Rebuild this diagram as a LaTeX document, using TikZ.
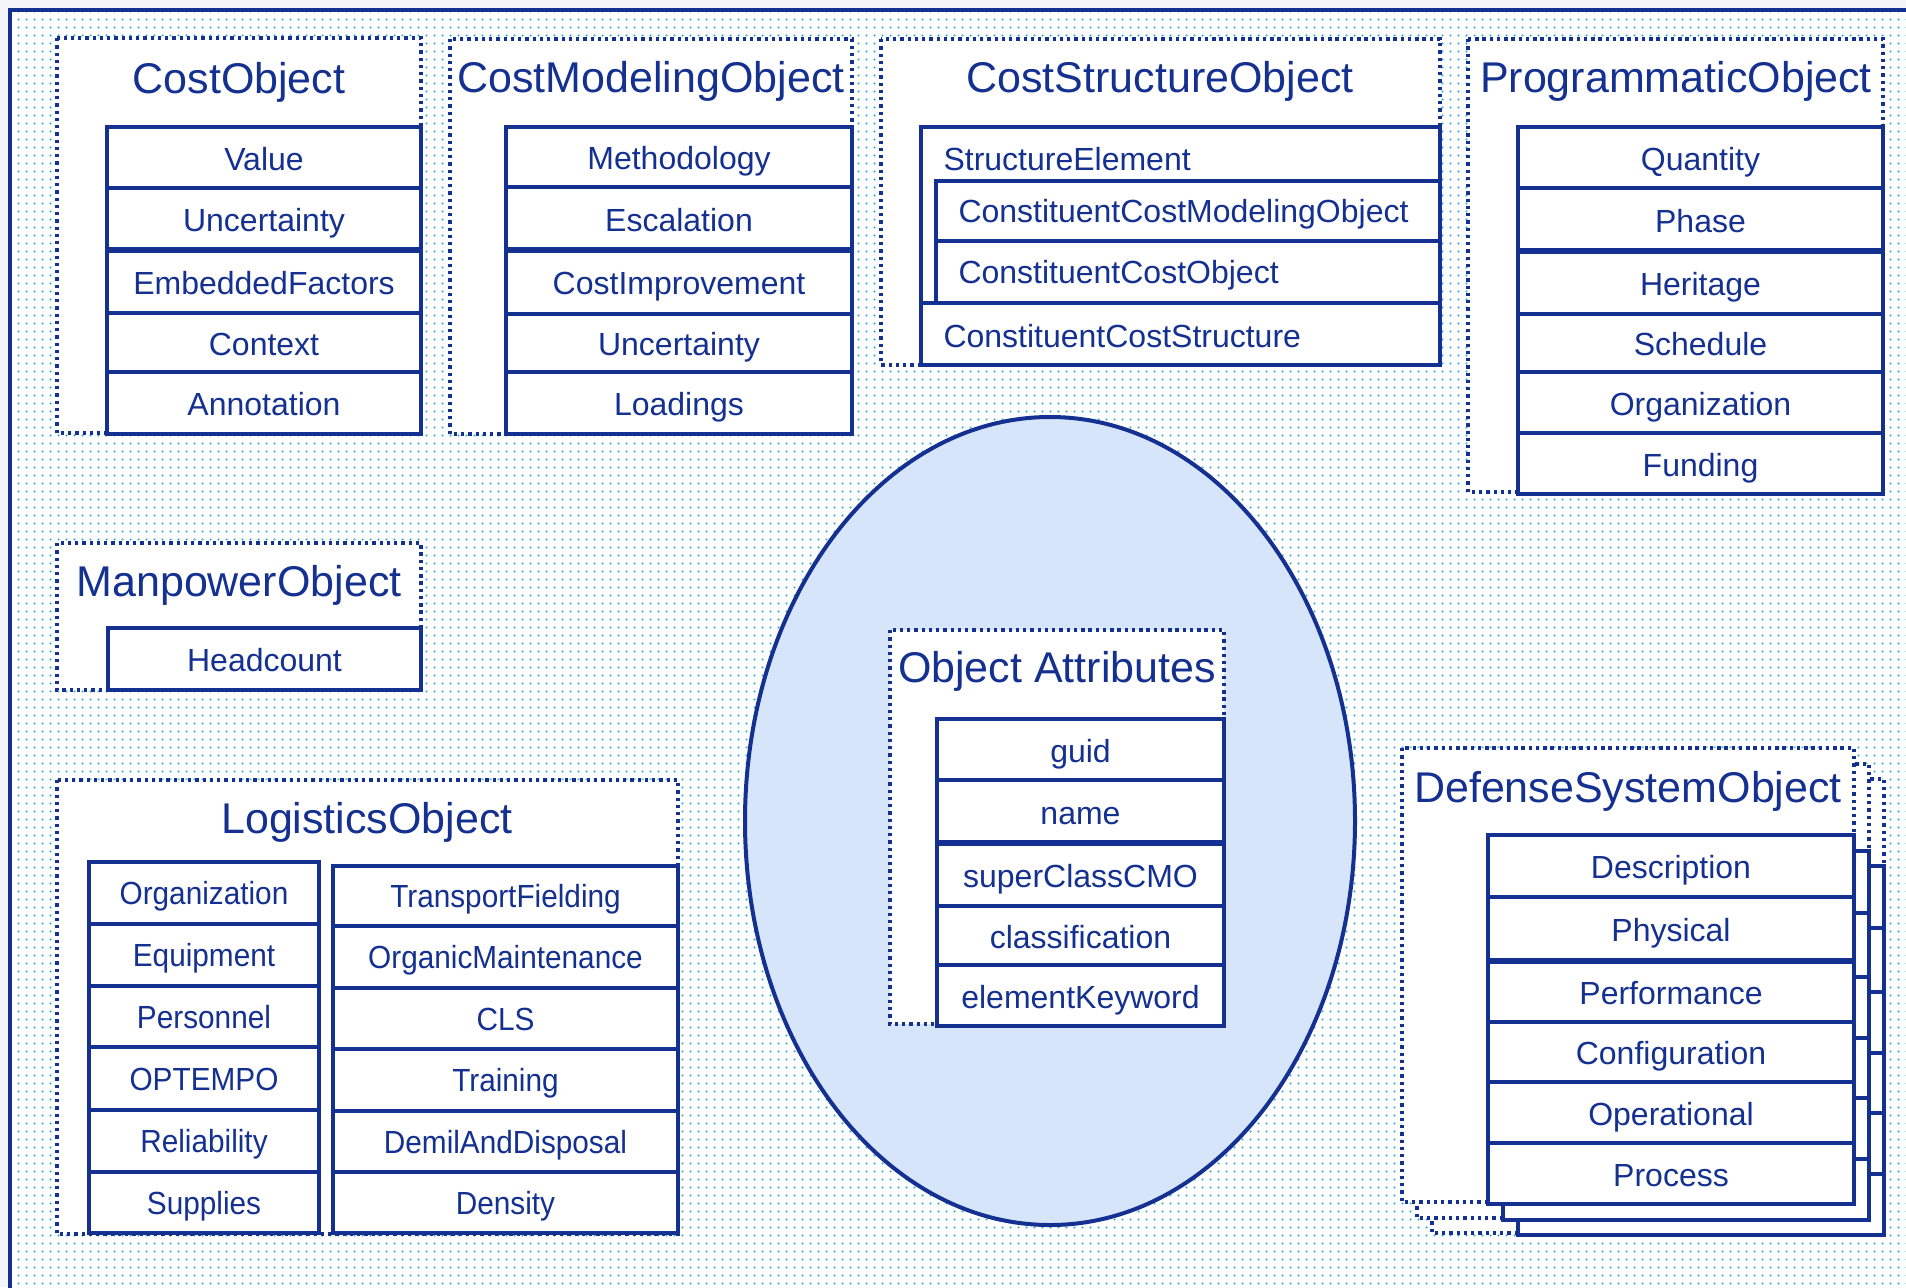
\documentclass[tikz,border=0pt]{standalone}
\usepackage{fontspec}
\setmainfont{Liberation Sans}
\newfontfamily\condfont[FakeStretch=0.93]{Liberation Sans}
\usetikzlibrary{patterns}
\definecolor{dblue}{RGB}{20,48,145}
\definecolor{dotcyan}{RGB}{60,172,218}
\definecolor{elfill}{RGB}{214,229,249}
\definecolor{margin}{RGB}{243,245,248}
\pgfdeclarepatternformonly{bgdots}{\pgfqpoint{0pt}{0pt}}{\pgfqpoint{3pt}{3pt}}{\pgfqpoint{3pt}{3pt}}{\pgfpathcircle{\pgfqpoint{1.5pt}{1.5pt}}{0.52pt}\pgfusepath{fill}}
\newcommand\titlefont{\fontsize{17.2pt}{20pt}\selectfont}
\newcommand\itemfont{\fontsize{12.8pt}{15pt}\selectfont}
\newcommand\rows[4]{%
  \foreach \t/\a/\b [count=\i] in {#4} {
    \draw[itembox] (#2,\a) rectangle (#3,\b);
    \node[itemtxt] (#1\i) at ({(#2+#3)/2},{(\a+\b)/2+12.5}) {\t};
  }}
\begin{document}
\begin{tikzpicture}[x=0.4pt,y=-0.4pt,
  dotbox/.style={draw=dblue,fill=white,line width=1.4pt,dash pattern=on 1.35pt off 1.55pt},
  itembox/.style={draw=dblue,fill=white,line width=1.6pt},
  thickdiv/.style={draw=dblue,line width=2.7pt},
  title/.style={font=\titlefont,text=dblue,anchor=base,inner sep=0pt},
  itemtxt/.style={font=\itemfont,text=dblue,anchor=base,inner sep=0pt},
  condtxt/.style={font=\itemfont\condfont,text=dblue,anchor=base,inner sep=0pt},
  lefttxt/.style={font=\itemfont,text=dblue,anchor=base west,inner sep=0pt}]
\useasboundingbox (0,0) rectangle (1906,1287);
\clip (0,0) rectangle (1906,1287);
% background
\fill[margin] (0,0) rectangle (1906,1287);
\fill[white] (10,10) rectangle (1930,1310);
\fill[pattern=bgdots,pattern color=dotcyan] (10,10) rectangle (1930,1310);
\draw[dblue,line width=1.6pt] (10,10) rectangle (1930,1310);

% CostObject
\draw[dotbox] (57,38) rectangle (421,433);
\node[title] (costobj) at (239,93) {CostObject};
\rows{co}{107}{421}{Value/127/188,Uncertainty/188/250,EmbeddedFactors/250/313,Context/313/372,Annotation/372/434}
\draw[thickdiv] (107,250) -- (421,250);

% CostModelingObject
\draw[dotbox] (450,39) rectangle (852,434);
\node[title] (cmo) at (651,92) {CostModelingObject};
\rows{cm}{506}{852}{Methodology/127/187,Escalation/187/250,CostImprovement/250/314,Uncertainty/314/372,Loadings/372/434}
\draw[thickdiv] (506,250) -- (852,250);

% CostStructureObject
\draw[dotbox] (881,39) rectangle (1440,365);
\node[title] (cso) at (1160,92) {CostStructureObject};
\draw[itembox] (921,127) rectangle (1440,303);
\draw[itembox] (921,303) rectangle (1440,365);
\draw[itembox] (936,181) rectangle (1440,241);
\draw[itembox] (936,241) rectangle (1440,303);
\node[lefttxt] (se) at (943,170) {StructureElement};
\node[lefttxt] (ccmo) at (958,222) {ConstituentCostModelingObject};
\node[lefttxt] (cco) at (958,283) {ConstituentCostObject};
\node[lefttxt] (ccs) at (943,347) {ConstituentCostStructure};

% ProgrammaticObject
\draw[dotbox] (1468,39) rectangle (1883,492);
\node[title] (po) at (1676,92) {ProgrammaticObject};
\rows{pr}{1518}{1883}{Quantity/127/188,Phase/188/251,Heritage/251/314,Schedule/314/372,Organization/372/433,Funding/433/494}
\draw[thickdiv] (1518,251) -- (1883,251);

% ManpowerObject
\draw[dotbox] (57,543) rectangle (421,690);
\node[title] (mo) at (239,596) {ManpowerObject};
\rows{mp}{108}{421}{Headcount/628/690}

% LogisticsObject
\draw[dotbox] (57,780) rectangle (678,1234);
\node[title] (lo) at (367,833) {LogisticsObject};
\foreach \t/\a/\b [count=\i] in {Organization/862/924,Equipment/924/986,Personnel/986/1047,OPTEMPO/1047/1110,Reliability/1110/1172,Supplies/1172/1233} {
  \draw[itembox] (89,\a) rectangle (319,\b);
  \node[condtxt] (ll\i) at (204,{(\a+\b)/2+11.5}) {\t};
}
\foreach \t/\a/\b [count=\i] in {TransportFielding/866/926,OrganicMaintenance/926/988,CLS/988/1049,Training/1049/1111,DemilAndDisposal/1111/1172,Density/1172/1233} {
  \draw[itembox] (333,\a) rectangle (678,\b);
  \node[condtxt] (lr\i) at (505.5,{(\a+\b)/2+11.5}) {\t};
}

% Object Attributes ellipse
\draw[draw=dblue,fill=elfill,line width=1.6pt] (1050,821) ellipse [x radius=122pt, y radius=161.6pt];
\draw[dotbox] (890,630) rectangle (1224,1024);
\node[title] (oa) at (1057,682) {Object Attributes};
\rows{oa}{937}{1224}{guid/719/780,name/780/843,superClassCMO/843/906,classification/906/965,elementKeyword/965/1026}
\draw[thickdiv] (937,843) -- (1224,843);

% DefenseSystemObject (stacked)
\foreach \dx/\dy in {30/31,15/16} {
  \draw[dotbox] ({1402+\dx},{748+\dy}) rectangle ({1854+\dx},{1202+\dy});
  \foreach \a/\b in {835/897,897/961,961/1022,1022/1082,1082/1143,1143/1204}
    \draw[itembox] ({1488+\dx},{\a+\dy}) rectangle ({1854+\dx},{\b+\dy});
}
\draw[dotbox] (1402,748) rectangle (1854,1202);
\node[title] (dso) at (1628,802) {DefenseSystemObject};
\rows{ds}{1488}{1854}{Description/835/897,Physical/897/961,Performance/961/1022,Configuration/1022/1082,Operational/1082/1143,Process/1143/1204}
\draw[thickdiv] (1488,961) -- (1854,961);
\end{tikzpicture}
\end{document}
